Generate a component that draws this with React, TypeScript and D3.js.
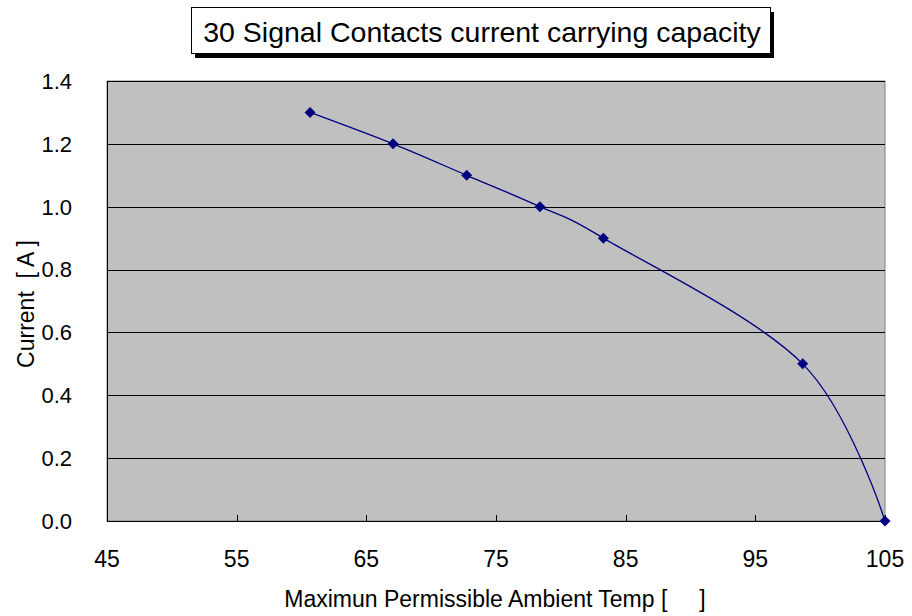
import React from 'react';
import * as d3 from 'd3';

const temps = [60.66, 67.06, 72.74, 78.39, 83.28, 98.65, 105];
const currents = [1.3, 1.2, 1.1, 1.0, 0.9, 0.5, 0.0];
const xTicks = [45, 55, 65, 75, 85, 95, 105];
const yTicks = [0, 0.2, 0.4, 0.6, 0.8, 1.0, 1.2, 1.4];

const W = 912;
const H = 616;
const margin = { top: 81, right: 27, bottom: 95, left: 107 };
const font = "'Liberation Sans', Arial, sans-serif";

const App: React.FC = () => {
  const innerW = W - margin.left - margin.right;
  const innerH = H - margin.top - margin.bottom;

  const x = d3.scaleLinear().domain([45, 105]).range([0, innerW]);
  const y = d3.scaleLinear().domain([0, 1.4]).range([innerH, 0]);

  const pts = temps.map((t, i) => [t, currents[i]] as [number, number]);
  // excel-style smoothed line
  const line = d3.line<[number, number]>()
    .x(d => x(d[0]))
    .y(d => y(d[1]))
    .curve(d3.curveCatmullRom.alpha(0));

  const diamond = (cx: number, cy: number, r: number) =>
    `M${cx},${cy - r}L${cx + r},${cy}L${cx},${cy + r}L${cx - r},${cy}Z`;

  return (
    <svg width={W} height={H} style={{ position: 'absolute', left: 0, top: 0, background: '#fff' }}>
      {/* title box with shadow */}
      <rect x={195} y={12} width={579} height={46} fill="#000" />
      <rect x={191.5} y={7.5} width={579} height={46} fill="#fff" stroke="#000" strokeWidth={1} />
      <text x={482} y={42} textAnchor="middle" fontFamily={font} fontSize={28.5} fill="#000">
        30 Signal Contacts current carrying capacity
      </text>

      <g transform={`translate(${margin.left},${margin.top})`}>
        <rect x={0} y={0} width={innerW} height={innerH} fill="#c0c0c0" stroke="#808080" strokeWidth={1} />
        {yTicks.map(t => (
          <line key={t} x1={0} x2={innerW} y1={Math.round(y(t)) + 0.5} y2={Math.round(y(t)) + 0.5} stroke="#000" strokeWidth={1} />
        ))}
        <line x1={0.5} x2={0.5} y1={0} y2={innerH} stroke="#000" />
        <line x1={0} x2={innerW} y1={innerH + 0.5} y2={innerH + 0.5} stroke="#000" />
        {xTicks.map(t => (
          <line key={t} x1={Math.round(x(t)) + 0.5} x2={Math.round(x(t)) + 0.5} y1={innerH} y2={innerH - 6} stroke="#000" />
        ))}
        {yTicks.map(t => (
          <text key={t} x={-35} y={y(t)} dy="0.36em" textAnchor="end" fontFamily={font} fontSize={22} fill="#000">
            {t.toFixed(1)}
          </text>
        ))}
        {xTicks.map(t => (
          <text key={t} x={x(t)} y={innerH + 46} textAnchor="middle" fontFamily={font} fontSize={23} fill="#000">
            {t}
          </text>
        ))}
        <path d={line(pts) || ''} fill="none" stroke="#000080" strokeWidth={1.3} />
        {pts.map((p, i) => (
          <path key={i} d={diamond(x(p[0]), y(p[1]), 5.5)} fill="#000080" />
        ))}
      </g>

      <text x={495} y={607} textAnchor="middle" fontFamily={font} fontSize={23} fill="#000" style={{ whiteSpace: 'pre' }}>
        {'Maximun Permissible Ambient Temp [     ]'}
      </text>
      <text transform={`translate(34,${margin.top + innerH / 2 + 3}) rotate(-90)`} textAnchor="middle" fontFamily={font} fontSize={23} fill="#000" style={{ whiteSpace: 'pre' }}>
        {'Current  [ A ]'}
      </text>
    </svg>
  );
};

export default App;
